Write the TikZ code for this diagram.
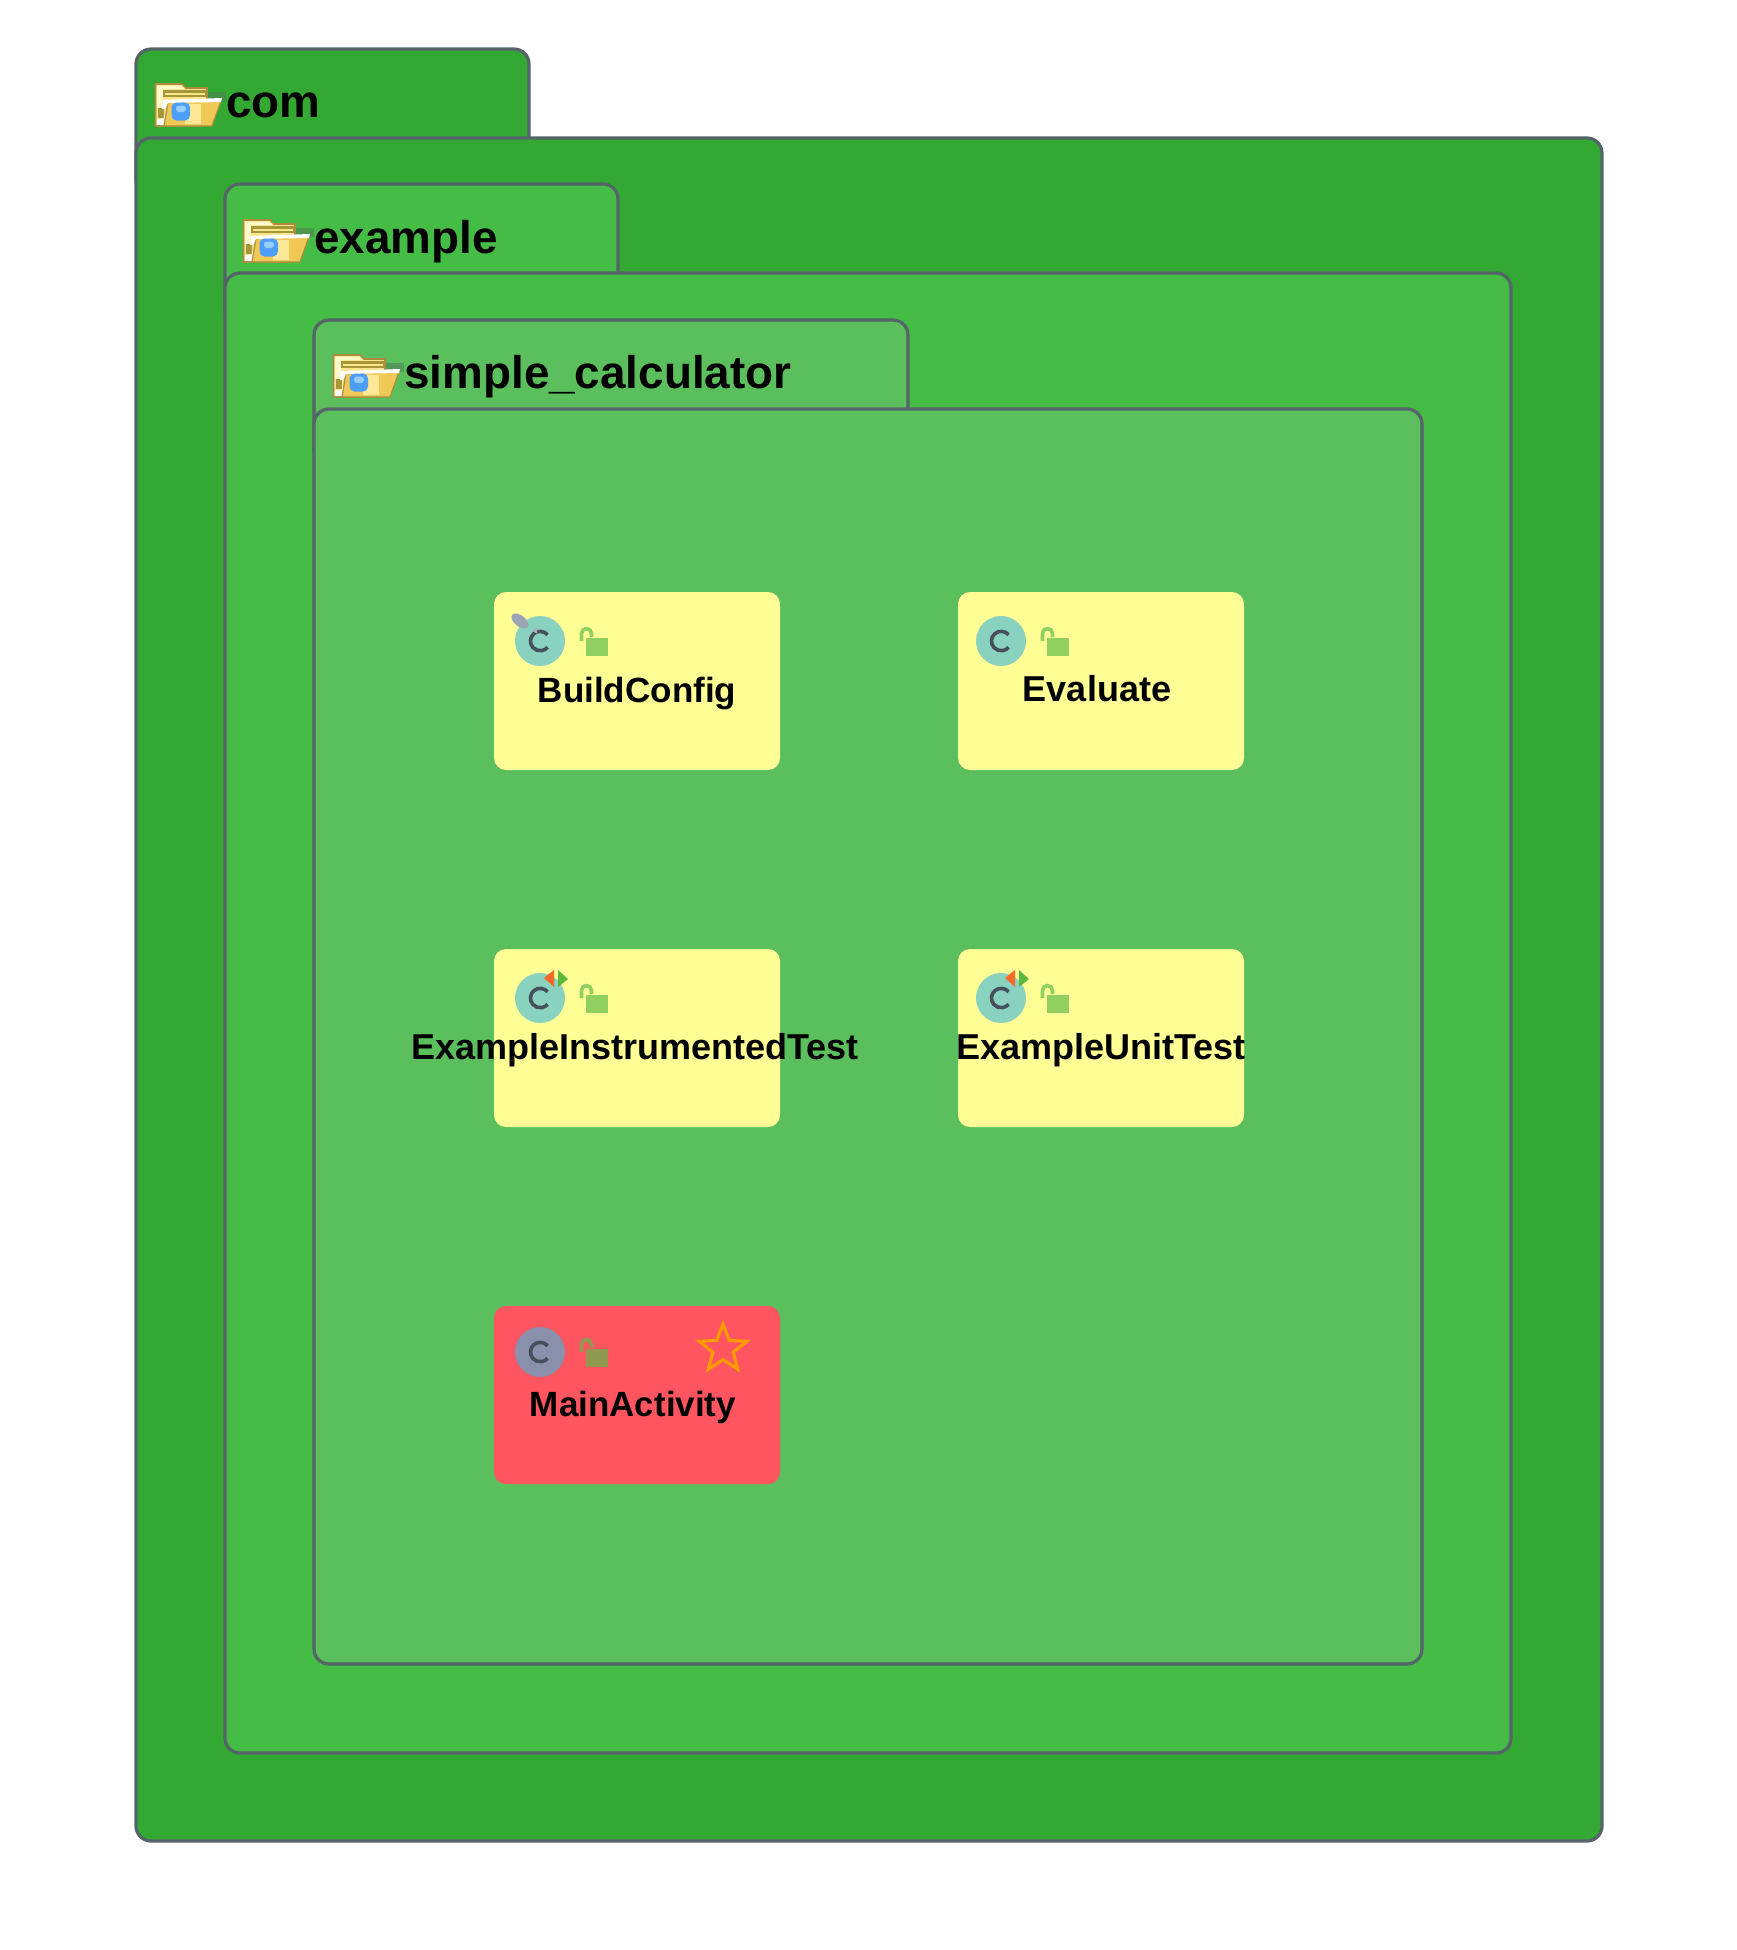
\documentclass[tikz,border=0pt]{standalone}
\usepackage{fontspec}
\setmainfont{Liberation Sans}
\usetikzlibrary{shapes.geometric}
\definecolor{comgreen}{HTML}{33A933}
\definecolor{examplegreen}{HTML}{45BC45}
\definecolor{calcgreen}{HTML}{5BBF5D}
\definecolor{edgegrey}{HTML}{546468}
\definecolor{classyellow}{HTML}{FFFF96}
\definecolor{classred}{HTML}{FF5560}
\definecolor{discblue}{HTML}{41B6DB}
\definecolor{lockgreen}{HTML}{5CBA47}
\definecolor{glyphgrey}{HTML}{46505A}
\definecolor{pinlight}{HTML}{A5AFB9}
\definecolor{pingrey}{HTML}{9BA5B4}
\definecolor{testorange}{HTML}{FA6928}
\definecolor{testgreen}{HTML}{5AB93C}
\definecolor{starorange}{HTML}{FF9900}
\definecolor{iconback}{HTML}{FAE48C}
\definecolor{iconedge}{HTML}{AA8C3C}
\definecolor{iconpale}{HTML}{FFF8C8}
\definecolor{iconolive}{HTML}{A59637}
\definecolor{icongold}{HTML}{F0C855}
\definecolor{iconlight}{HTML}{FCE896}
\definecolor{iconblue}{HTML}{4D9DFA}
\definecolor{iconsky}{HTML}{96CDFF}
\definecolor{iconshade}{HTML}{4F7A55}
\tikzset{
	folderedge/.style={draw=edgegrey, line width=1.6pt, rounded corners=7.5pt},
	foldertext/.style={font=\bfseries\fontsize{22.9}{26}\selectfont, anchor=base west, inner sep=0pt},
	classtext/.style={font=\bfseries\fontsize{17.5}{20}\selectfont, anchor=base, inner sep=0pt},
	classtextwide/.style={classtext, font=\bfseries\fontsize{18}{20}\selectfont},
	classshape/.style={rounded corners=6pt},
	classdisc/.style={fill=discblue, fill opacity=0.61},
	lockpart/.style={color=lockgreen, opacity=0.68}
}
\def\folderbox[#1](#2,#3,#4)(#5,#6){
	\draw[folderedge, fill=#1] (#2, #3) rectangle (#4, #3+146);
	\draw[folderedge, fill=#1] (#2, #3+89) rectangle (#5, #6);
}
\def\foldericon(#1,#2){
	\begin{scope}[shift={(#1,#2)}]
		\fill[iconshade, opacity=0.55] (50, 10) rectangle (71, 19);
		\draw[fill=iconback, draw=iconedge, line width=0.8pt] (0.5, 2) -- (27, 2) -- (31, 6) -- (52, 6) -- (52, 28) -- (45, 44) -- (0.5, 44) -- cycle;
		\fill[iconpale] (2, 3.5) -- (26, 3.5) -- (29, 7) -- (8, 7) -- (8, 26) -- (2, 26) -- cycle;
		\fill[iconolive] (8, 8) rectangle (52, 15);
		\fill[iconback] (10, 11) rectangle (50, 13);
		\fill[iconolive] (3, 26) rectangle (9, 36);
		\fill[white] (2, 37) -- (9, 37) -- (9, 33) -- (14, 33) -- (14, 43) -- (2, 43) -- cycle;
		\draw[fill=icongold, draw=iconedge, line width=0.6pt] (13, 20) -- (66, 19) -- (57, 44) -- (9, 44) -- cycle;
		\fill[iconlight] (30, 22) rectangle (46, 42);
		\fill[white] (8, 18) -- (67, 16) -- (66, 20) -- (13, 21) -- (10, 27) -- (7, 27) -- cycle;
		\fill[iconblue, rounded corners=2.5pt] (16.5, 20.5) rectangle (35, 38.5);
		\fill[iconsky, rounded corners=1.5pt] (21, 23.5) rectangle (31, 30);
	\end{scope}
}
\def\classbox[#1](#2,#3){\fill[classshape, #1] (#2, #3) rectangle (#2+286, #3+178);}
\def\classicon(#1,#2){
	\begin{scope}[shift={(#1,#2)}]
		\fill[classdisc] (0, 0) circle (25);
		\draw[line width=1.8pt, color=glyphgrey] (7.6, -6.2) arc (-40:-320:9.7);
		\fill[lockpart] (46, -3.5) rectangle (68, 14.5);
		\draw[lockpart, line width=1.8pt] (41.5, 0) -- (41.5, -7.5) arc (180:360:5) -- (51.5, -4);
	\end{scope}
}
\def\pinmark(#1,#2){
	\begin{scope}[shift={(#1,#2)}]
		\fill[pinlight] (-3, -14) -- (-8, -10) -- (-3, -7.5) -- cycle;
		\fill[rotate around={-38:(-20,-20)}, pingrey] (-20, -20) ellipse (10 and 5.5);
	\end{scope}
}
\def\testmark(#1,#2){
	\begin{scope}[shift={(#1,#2)}]
		\fill[testorange] (4, -20) -- (14, -28) -- (14, -11) -- cycle;
		\fill[testgreen] (18, -28) -- (28, -19) -- (18, -11) -- cycle;
	\end{scope}
}

\begin{document}
\begin{tikzpicture}[x=0.5pt, y=-0.5pt]
	\useasboundingbox (0, 0) rectangle (1736, 1950);

	%%%%% FOLDERS %%%%%

	\folderbox[comgreen](136, 49, 529)(1602, 1841);
	\foldericon(155, 82);
	\node[foldertext] (comlabel) at (226, 117) {com};

	\folderbox[examplegreen](225, 184, 618)(1511, 1753);
	\foldericon(243, 218);
	\node[foldertext] (examplelabel) at (314, 253) {example};

	\folderbox[calcgreen](314, 320, 908)(1422, 1664);
	\foldericon(333, 353);
	\node[foldertext] (calculatorlabel) at (404, 388) {simple\_calculator};

	%%%%% CLASSES %%%%%

	\classbox[classyellow](494, 592);
	\classicon(540, 641);
	\pinmark(540, 641);
	\node[classtext] (buildconfig) at (637, 702) {BuildConfig};

	\classbox[classyellow](958, 592);
	\classicon(1001, 641);
	\node[classtextwide] (evaluate) at (1097, 701) {Evaluate};

	\classbox[classyellow](494, 949);
	\classicon(540, 998);
	\testmark(540, 998);
	\node[classtextwide] (instrumentedtest) at (635, 1059) {ExampleInstrumentedTest};

	\classbox[classyellow](958, 949);
	\classicon(1001, 998);
	\testmark(1001, 998);
	\node[classtextwide] (unittest) at (1101, 1059) {ExampleUnitTest};

	\classbox[classred](494, 1306);
	\classicon(540, 1352);
	\node[star, star points=5, star point ratio=2.35, draw=starorange, line width=1.6pt, minimum size=25pt, inner sep=0pt] (favourite) at (723, 1349) {};
	\node[classtext] (mainactivity) at (633, 1416) {MainActivity};
\end{tikzpicture}
\end{document}
